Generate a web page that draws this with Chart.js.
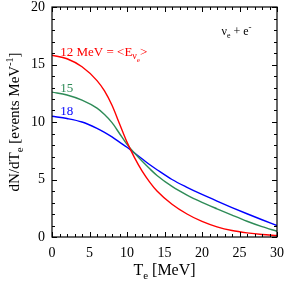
<!DOCTYPE html>
<html><head><meta charset="utf-8">
<script src="https://cdn.jsdelivr.net/npm/chart.js@4/dist/chart.umd.min.js"></script>
<style>html,body{margin:0;padding:0;background:#fff}canvas{display:block}</style>
</head><body>
<canvas id="c" width="287" height="283"></canvas>
<script>
const te      = [0, 2, 4, 6, 7, 8, 9, 10, 11, 12, 13, 14, 16, 18, 20, 22, 24, 26, 28, 30];
const red12   = [15.8, 15.5, 14.8, 13.6, 12.7, 11.45, 9.85, 8.25, 6.9, 5.75, 4.8, 4.0, 2.85, 2.0, 1.35, 0.88, 0.56, 0.36, 0.22, 0.13];
const green15 = [12.6, 12.35, 11.9, 11.2, 10.65, 9.95, 9.0, 8.05, 7.3, 6.6, 5.95, 5.35, 4.4, 3.65, 3.02, 2.45, 1.9, 1.37, 0.9, 0.5];
const blue18  = [10.5, 10.3, 10.0, 9.45, 9.1, 8.7, 8.25, 7.8, 7.3, 6.8, 6.3, 5.85, 5.0, 4.32, 3.7, 3.12, 2.56, 2.02, 1.5, 1.0];
const xTicks  = [0, 5, 10, 15, 20, 25, 30];
const yTicks  = [0, 5, 10, 15, 20];

const SERIF = '"Liberation Serif", "Times New Roman", serif';
function pts(ys){ return te.map((x,i)=>({x:x,y:ys[i]})); }

function drawRich(ctx, segs, x, y, align){
  let w = 0;
  segs.forEach(s=>{ ctx.font = s.s+'px '+SERIF; s.w = ctx.measureText(s.t).width; w += s.w; });
  let cx = align==='center' ? x - w/2 : x;
  ctx.textAlign = 'left'; ctx.textBaseline = 'alphabetic';
  segs.forEach(s=>{ ctx.font = s.s+'px '+SERIF; ctx.fillText(s.t, cx, y + (s.dy||0)); cx += s.w; });
}

const decor = {
  id: 'decor',
  afterDraw(chart){
    const ctx = chart.ctx, a = chart.chartArea, xs = chart.scales.x, ys = chart.scales.y;
    ctx.save();
    ctx.strokeStyle = '#000'; ctx.lineWidth = 1.2;
    ctx.strokeRect(a.left, a.top, a.right-a.left, a.bottom-a.top);
    ctx.lineWidth = 1;
    ctx.beginPath();
    for(let v=0; v<=30; v++){
      const p = Math.round(xs.getPixelForValue(v))+0.5, L = (v%5===0)?5:3;
      ctx.moveTo(p, a.bottom); ctx.lineTo(p, a.bottom-L);
      ctx.moveTo(p, a.top); ctx.lineTo(p, a.top+L);
    }
    for(let v=0; v<=20; v++){
      const p = Math.round(ys.getPixelForValue(v))+0.5, L = (v%5===0)?5:3;
      ctx.moveTo(a.left, p); ctx.lineTo(a.left+L, p);
      ctx.moveTo(a.right, p); ctx.lineTo(a.right-L, p);
    }
    ctx.stroke();

    ctx.fillStyle = '#000';
    drawRich(ctx, [{t:'T',s:16},{t:'e',s:11,dy:4},{t:' [MeV]',s:16}], (a.left+a.right)/2, 275, 'center');
    ctx.save();
    ctx.translate(19, (a.top+a.bottom)/2);
    ctx.rotate(-Math.PI/2);
    drawRich(ctx, [{t:'dN/dT',s:15},{t:'e',s:11,dy:4},{t:' [events MeV',s:15},{t:'-1',s:10,dy:-6},{t:']',s:15}], 0, 0, 'center');
    ctx.restore();

    ctx.fillStyle = 'rgb(255,0,0)';
    drawRich(ctx, [{t:'12 MeV = <E',s:13},{t:'ν',s:10,dy:3},{t:'e',s:7,dy:6},{t:'>',s:13}], xs.getPixelForValue(1.1), ys.getPixelForValue(15.7), 'left');
    ctx.fillStyle = 'rgb(46,139,87)';
    drawRich(ctx, [{t:'15',s:13}], xs.getPixelForValue(1.1), ys.getPixelForValue(12.6), 'left');
    ctx.fillStyle = 'rgb(0,0,255)';
    drawRich(ctx, [{t:'18',s:13}], xs.getPixelForValue(1.1), ys.getPixelForValue(10.6), 'left');
    ctx.fillStyle = '#000';
    drawRich(ctx, [{t:'ν',s:12},{t:'e',s:8,dy:3},{t:' + e',s:12},{t:'-',s:9,dy:-5}], xs.getPixelForValue(22.6), ys.getPixelForValue(17.6), 'left');
    ctx.restore();
  }
};

new Chart(document.getElementById('c'), {
  type: 'line',
  data: { datasets: [
    { data: pts(red12),   borderColor: 'rgb(255,0,0)',   borderWidth: 1.4 },
    { data: pts(green15), borderColor: 'rgb(46,139,87)', borderWidth: 1.4 },
    { data: pts(blue18),  borderColor: 'rgb(0,0,255)',   borderWidth: 1.4 }
  ]},
  options: {
    responsive: false, animation: false, devicePixelRatio: 1,
    layout: { padding: { left: 0, right: 10, top: 7, bottom: 0 } },
    elements: { point: { radius: 0 }, line: { cubicInterpolationMode: 'monotone', fill: false } },
    plugins: { legend: { display: false }, tooltip: { enabled: false } },
    scales: {
      x: { type: 'linear', min: 0, max: 30,
           afterBuildTicks: s => { s.ticks = xTicks.map(v=>({value:v})); },
           afterFit: s => { s.height = 46; s.paddingLeft = 0; s.paddingRight = 0; },
           grid: { display: false, drawTicks: false }, border: { display: false },
           ticks: { color: '#000', padding: 8, maxRotation: 0, font: { family: SERIF, size: 14 } } },
      y: { type: 'linear', min: 0, max: 20,
           afterBuildTicks: s => { s.ticks = yTicks.map(v=>({value:v})); },
           afterFit: s => { s.width = 52; s.paddingTop = 0; s.paddingBottom = 0; },
           grid: { display: false, drawTicks: false }, border: { display: false },
           ticks: { color: '#000', padding: 7, font: { family: SERIF, size: 14 } } }
    }
  },
  plugins: [decor]
});
</script>
</body></html>
